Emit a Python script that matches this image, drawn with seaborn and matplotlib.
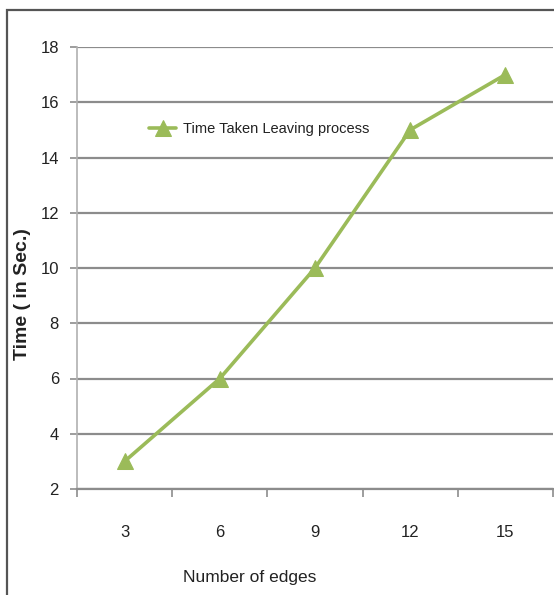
import matplotlib
matplotlib.use("Agg")
import matplotlib.pyplot as plt
import seaborn as sns
import pandas as pd
from matplotlib.patches import Rectangle
from matplotlib.ticker import FixedLocator

edges = ["3", "6", "9", "12", "15"]
time_taken = [3, 6, 10, 15, 17]
series_name = "Time Taken Leaving process"
y_ticks = [2, 4, 6, 8, 10, 12, 14, 16, 18]

sns.set_theme(style="white")
plt.rcParams["font.family"] = ["Liberation Sans Narrow", "Liberation Sans", "DejaVu Sans"]

df = pd.DataFrame({"pos": range(len(edges)), "time": time_taken, "series": series_name})

fig = plt.figure(figsize=(5.54, 5.95), dpi=100)
fig.patch.set_facecolor("white")
# outer chart frame
fig.patches.append(Rectangle((7 / 554, -0.05), 1.2, 1 - 10 / 595 + 0.05,
                             transform=fig.transFigure, fill=False,
                             edgecolor="#555555", linewidth=1.6))

ax = fig.add_axes([77 / 554, 1 - 489 / 595, (553 - 77) / 554, (489 - 47) / 595])

green = "#9BBB59"
sns.lineplot(data=df, x="pos", y="time", hue="series", palette=[green],
             marker="^", markersize=11, markeredgecolor=green, linewidth=2.6,
             ax=ax, zorder=3)

ax.set_xlim(-0.5, len(edges) - 0.5)
ax.set_ylim(2, 18)
ax.set_yticks(y_ticks)
ax.set_yticklabels([str(v) for v in y_ticks], fontsize=12, color="#222222")
ax.yaxis.grid(True, color="#8c8c8c", linewidth=1.6)
ax.set_axisbelow(True)

ax.set_xticks(range(len(edges)))
ax.set_xticklabels(edges, fontsize=12, color="#222222")
ax.tick_params(axis="x", which="major", length=0, pad=26)
ax.xaxis.set_minor_locator(FixedLocator([i - 0.5 for i in range(len(edges) + 1)]))
ax.tick_params(axis="x", which="minor", length=6, width=1.2, color="#8c8c8c", bottom=True)
ax.tick_params(axis="y", which="major", length=5, width=1.2, color="#8c8c8c", left=True, pad=8)

for side in ["top", "right"]:
    ax.spines[side].set_visible(False)
ax.spines["left"].set_color("#b0b0b0")
ax.spines["left"].set_linewidth(1.2)
ax.spines["bottom"].set_color("#8c8c8c")
ax.spines["bottom"].set_linewidth(1.6)

ax.set_xlabel("Number of edges", fontsize=12.5, color="#222222")
ax.xaxis.set_label_coords((250 - 77) / 476, -(570 - 489) / 442)
ax.set_ylabel("Time ( in Sec.)", fontsize=14, color="#222222", fontweight="bold",
              family=["Liberation Sans", "DejaVu Sans"])
ax.yaxis.set_label_coords((31 - 77) / 476, (489 - 294) / 442)

leg = ax.legend(loc="center left", bbox_to_anchor=(0.14, (489 - 129) / 442), frameon=False,
                fontsize=10.5, handlelength=1.8, handletextpad=0.5, borderaxespad=0)
for t in leg.get_texts():
    t.set_color("#222222")

fig.savefig("out.png", dpi=100, facecolor="white")
